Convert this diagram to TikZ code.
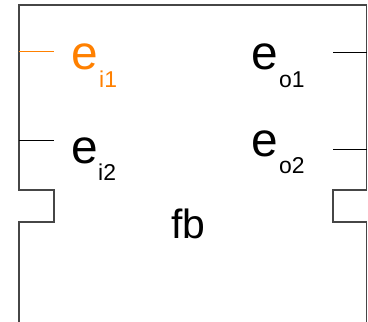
\documentclass[tikz,border=0pt]{standalone}
\usepackage{fontspec}
\setmainfont{Liberation Sans}
\definecolor{portorange}{RGB}{255,128,0}
\definecolor{framegray}{RGB}{70,70,70}
\begin{document}
\begin{tikzpicture}[x=1bp,y=-1bp,
  frame/.style={draw=framegray,line width=1.1bp},
  port/.style={draw=black,line width=0.6bp},
  lbl/.style={inner sep=0pt,anchor=base west,font=\fontsize{48}{50}\selectfont},
  sub/.style={inner sep=0pt,anchor=base west,font=\fontsize{23}{26}\selectfont}]
\useasboundingbox (0,0) rectangle (368,322);
% outline of the block with its two side notches
\draw[frame] (19,322) -- (19,222) -- (54,222) -- (54,190) -- (19,190) -- (19,5)
  -- (366.5,5) -- (366.5,190) -- (333,190) -- (333,222) -- (366.5,222) -- (366.5,322);
% port stubs
\coordinate (pi1a) at (19,51);  \coordinate (pi1b) at (54,51);
\coordinate (pi2a) at (19,140); \coordinate (pi2b) at (54,140);
\coordinate (po1a) at (333,52); \coordinate (po1b) at (366.5,52);
\coordinate (po2a) at (333,149); \coordinate (po2b) at (366.5,149);
\draw[port,draw=portorange] (pi1a) -- (pi1b);
\draw[port] (pi2a) -- (pi2b);
\draw[port] (po1a) -- (po1b);
\draw[port] (po2a) -- (po2b);
% port labels
\node[lbl,text=portorange] (ei1) at (71,69) {e};
\node[sub,text=portorange] (ei1s) at (99,87) {i1};
\node[lbl] (eo1) at (251,69) {e};
\node[sub] (eo1s) at (279,87) {o1};
\node[lbl] (ei2) at (71,163) {e};
\node[sub] (ei2s) at (98,180) {i2};
\node[lbl] (eo2) at (251,156) {e};
\node[sub] (eo2s) at (279,173) {o2};
% block name
\node[inner sep=0pt,anchor=base west,font=\fontsize{41}{44}\selectfont] (fb) at (171,238) {fb};
\end{tikzpicture}
\end{document}
